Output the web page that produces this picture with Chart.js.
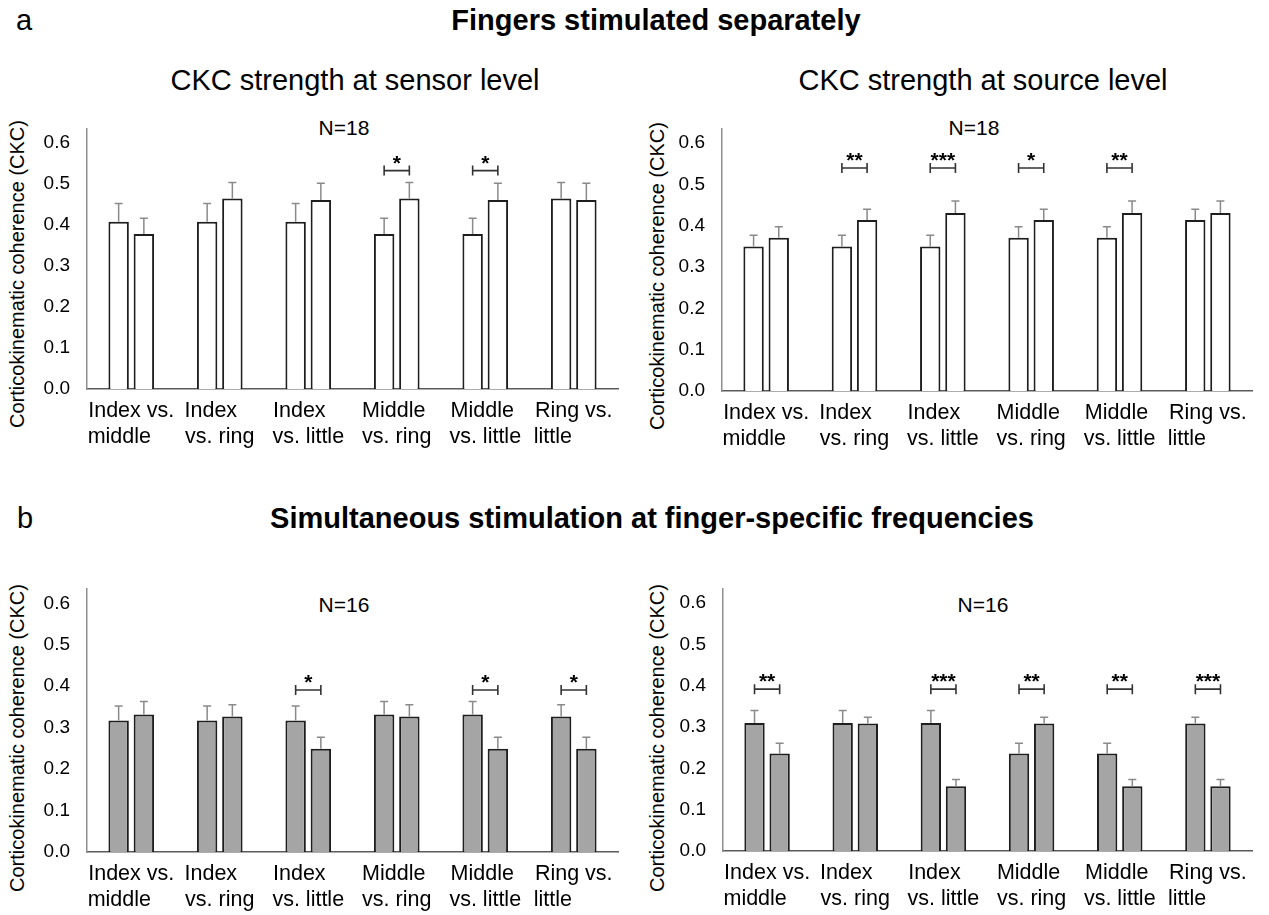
<!DOCTYPE html>
<html><head><meta charset="utf-8">
<script src="https://cdn.jsdelivr.net/npm/chart.js@4.4.1/dist/chart.umd.min.js"></script>
<style>
body{margin:0;background:#fff;width:1269px;height:915px;overflow:hidden;position:relative;font-family:"Liberation Sans",Arial,sans-serif;color:#000}
.t{position:absolute;white-space:nowrap;line-height:1;transform:translate(-50%,-50%)}
.yt{position:absolute;white-space:nowrap;line-height:1;font-size:20px;transform:translate(-50%,-50%) rotate(-90deg)}
canvas{position:absolute}
</style></head><body>
<div class="t" style="left:24px;top:20px;font-size:29px">a</div>
<div class="t" style="left:656px;top:20px;font-size:29px;font-weight:bold">Fingers stimulated separately</div>
<div class="t" style="left:355px;top:80px;font-size:29px">CKC strength at sensor level</div>
<div class="t" style="left:983px;top:80px;font-size:29px">CKC strength at source level</div>
<div class="t" style="left:25px;top:518px;font-size:29px">b</div>
<div class="t" style="left:652px;top:518px;font-size:29px;font-weight:bold">Simultaneous stimulation at finger-specific frequencies</div>
<div class="t" style="left:344px;top:127px;font-size:21px">N=18</div>
<div class="t" style="left:974px;top:127px;font-size:21px">N=18</div>
<div class="t" style="left:344px;top:604px;font-size:21px">N=16</div>
<div class="t" style="left:983px;top:604px;font-size:21px">N=16</div>
<div class="yt" style="left:17px;top:274px">Corticokinematic coherence (CKC)</div>
<div class="yt" style="left:657px;top:276px">Corticokinematic coherence (CKC)</div>
<div class="yt" style="left:17px;top:738px">Corticokinematic coherence (CKC)</div>
<div class="yt" style="left:657px;top:738px">Corticokinematic coherence (CKC)</div>
<canvas id="c1" width="640" height="360" style="left:0;top:100px"></canvas>
<canvas id="c2" width="629" height="360" style="left:640px;top:100px"></canvas>
<canvas id="c3" width="640" height="355" style="left:0;top:560px"></canvas>
<canvas id="c4" width="629" height="355" style="left:640px;top:560px"></canvas>
<script>
// ---- data ----
const categories = [["Index vs.","middle"],["Index","vs. ring"],["Index","vs. little"],["Middle","vs. ring"],["Middle","vs. little"],["Ring vs.","little"]];
const yTicks = [0.0, 0.1, 0.2, 0.3, 0.4, 0.5, 0.6];

// a: fingers stimulated separately, sensor level
const sepSensorFirst     = [0.408, 0.408, 0.408, 0.378, 0.378, 0.465];
const sepSensorSecond    = [0.378, 0.465, 0.461, 0.465, 0.461, 0.461];
const sepSensorFirstErr  = [0.045, 0.045, 0.045, 0.039, 0.039, 0.039];
const sepSensorSecondErr = [0.039, 0.039, 0.041, 0.039, 0.041, 0.041];
const sepSensorSig       = ["", "", "", "*", "*", ""];

// a: fingers stimulated separately, source level
const sepSourceFirst     = [0.350, 0.350, 0.350, 0.371, 0.371, 0.414];
const sepSourceSecond    = [0.371, 0.414, 0.431, 0.414, 0.431, 0.431];
const sepSourceFirstErr  = [0.027, 0.027, 0.027, 0.027, 0.027, 0.026];
const sepSourceSecondErr = [0.027, 0.026, 0.029, 0.026, 0.029, 0.029];
const sepSourceSig       = ["", "**", "***", "*", "**", ""];

// b: simultaneous stimulation, sensor level
const simSensorFirst     = [0.317, 0.317, 0.317, 0.332, 0.332, 0.327];
const simSensorSecond    = [0.332, 0.327, 0.249, 0.327, 0.249, 0.249];
const simSensorFirstErr  = [0.035, 0.035, 0.035, 0.031, 0.031, 0.028];
const simSensorSecondErr = [0.031, 0.028, 0.028, 0.028, 0.028, 0.028];
const simSensorSig       = ["", "", "*", "", "*", "*"];

// b: simultaneous stimulation, source level
const simSourceFirst     = [0.310, 0.310, 0.310, 0.236, 0.236, 0.309];
const simSourceSecond    = [0.236, 0.309, 0.157, 0.309, 0.157, 0.157];
const simSourceFirstErr  = [0.030, 0.030, 0.030, 0.025, 0.025, 0.015];
const simSourceSecondErr = [0.025, 0.015, 0.016, 0.015, 0.016, 0.016];
const simSourceSig       = ["**", "", "***", "**", "**", "***"];

// ---- rendering ----
const FONT = "'Liberation Sans', Arial, sans-serif";
Chart.defaults.font.family = FONT;
Chart.defaults.color = '#000';

const CAT_SIZE = 21.5;
const mctx = document.createElement('canvas').getContext('2d');
mctx.font = CAT_SIZE + 'px ' + FONT;
function padLines(lines) {
  if (!Array.isArray(lines)) return lines;
  const w = lines.map(s => mctx.measureText(s).width);
  const maxW = Math.max(...w);
  const sp = mctx.measureText(' ').width;
  return lines.map((s, i) => {
    let out = s, cw = w[i];
    while (maxW - cw > sp / 2) { out += ' '; cw += sp; }
    return out;
  });
}

const overlayPlugin = {
  id: 'overlay',
  afterDatasetsDraw(chart, args, opts) {
    const ctx = chart.ctx;
    const ys = chart.scales.y;
    ctx.save();
    // error bars (upper only)
    chart.data.datasets.forEach((ds, di) => {
      const meta = chart.getDatasetMeta(di);
      meta.data.forEach((el, j) => {
        const yTop = ys.getPixelForValue(ds.data[j] + ds.errors[j]);
        ctx.strokeStyle = '#8a8a8a';
        ctx.lineWidth = 1.5;
        ctx.beginPath();
        ctx.moveTo(el.x, el.y);
        ctx.lineTo(el.x, yTop);
        ctx.moveTo(el.x - 4, yTop);
        ctx.lineTo(el.x + 4, yTop);
        ctx.stroke();
      });
    });
    // significance brackets
    const m0 = chart.getDatasetMeta(0), m1 = chart.getDatasetMeta(1);
    const yb = ys.getPixelForValue(opts.level);
    opts.sig.forEach((s, j) => {
      if (!s) return;
      const x1 = m0.data[j].x, x2 = m1.data[j].x;
      ctx.strokeStyle = '#333';
      ctx.lineWidth = 1.6;
      ctx.beginPath();
      ctx.moveTo(x1, yb); ctx.lineTo(x2, yb);
      ctx.moveTo(x1, yb - 5); ctx.lineTo(x1, yb + 5);
      ctx.moveTo(x2, yb - 5); ctx.lineTo(x2, yb + 5);
      ctx.stroke();
      ctx.fillStyle = '#000';
      ctx.font = 'bold 21px ' + FONT;
      ctx.textAlign = 'center';
      ctx.textBaseline = 'alphabetic';
      ctx.fillText(s, (x1 + x2) / 2, yb - 1);
    });
    ctx.restore();
  }
};

function makeChart(id, first, second, firstErr, secondErr, sig, level, fill, yWidth, pad) {
  new Chart(document.getElementById(id), {
    type: 'bar',
    data: {
      labels: categories,
      datasets: [
        { data: first, errors: firstErr, backgroundColor: fill, borderColor: '#1e1e1e', borderWidth: 2,
          categoryPercentage: 0.57, barPercentage: 0.81 },
        { data: second, errors: secondErr, backgroundColor: fill, borderColor: '#1e1e1e', borderWidth: 2,
          categoryPercentage: 0.57, barPercentage: 0.81 }
      ]
    },
    options: {
      responsive: false,
      animation: false,
      events: [],
      layout: { padding: pad },
      plugins: { legend: { display: false }, tooltip: { enabled: false }, title: { display: false },
                 overlay: { sig: sig, level: level } },
      scales: {
        x: {
          grid: { display: false, drawTicks: false },
          border: { display: true, color: '#5a5a5a', width: 1.5 },
          ticks: { font: { size: CAT_SIZE, lineHeight: 1.22 }, padding: 9, autoSkip: false, maxRotation: 0, minRotation: 0,
                   color: '#000',
                   callback: function (v) { return padLines(this.getLabelForValue(v)); } },
          afterFit: s => { s.height = 60; }
        },
        y: {
          min: 0, max: 0.636,
          grid: { display: false, drawTicks: false },
          border: { display: true, color: '#8f8f8f', width: 1.5 },
          afterBuildTicks: s => { s.ticks = yTicks.map(v => ({ value: v })); },
          ticks: { font: { size: 19 }, padding: 17, color: '#000', callback: v => Number(v).toFixed(1) },
          afterFit: s => { s.width = yWidth; }
        }
      }
    },
    plugins: [overlayPlugin]
  });
}

makeChart('c1', sepSensorFirst, sepSensorSecond, sepSensorFirstErr, sepSensorSecondErr, sepSensorSig, 0.533, '#ffffff', 87, { top: 25, right: 22, bottom: 11, left: 0 });
makeChart('c2', sepSourceFirst, sepSourceSecond, sepSourceFirstErr, sepSourceSecondErr, sepSourceSig, 0.540, '#ffffff', 82, { top: 28, right: 17, bottom: 9, left: 0 });
makeChart('c3', simSensorFirst, simSensorSecond, simSensorFirstErr, simSensorSecondErr, simSensorSig, 0.391, '#a5a5a5', 87, { top: 28, right: 22, bottom: 3, left: 0 });
makeChart('c4', simSourceFirst, simSourceSecond, simSourceFirstErr, simSourceSecondErr, simSourceSig, 0.392, '#a5a5a5', 83, { top: 28, right: 17, bottom: 4, left: 0 });
</script>
</body></html>
